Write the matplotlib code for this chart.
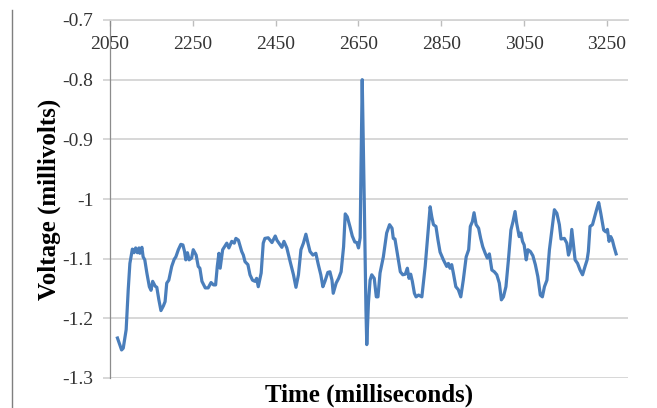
import matplotlib
matplotlib.use("Agg")
import matplotlib.pyplot as plt
from matplotlib.lines import Line2D

time_ms = [2068, 2078, 2082, 2089, 2094, 2098, 2104, 2108, 2112, 2116, 2120, 2122, 2127, 2130,
           2134, 2139, 2145, 2149, 2153, 2159, 2163, 2168, 2173, 2179, 2183, 2187, 2192, 2199,
           2205, 2209, 2215, 2221, 2226, 2230, 2233, 2237, 2241, 2247, 2251, 2258, 2263, 2267,
           2272, 2280, 2287, 2294, 2300, 2305, 2309, 2313, 2316, 2322, 2332, 2337, 2344, 2350,
           2354, 2360, 2368, 2372, 2376, 2383, 2388, 2394, 2400, 2404, 2408, 2415, 2420, 2424,
           2432, 2441, 2449, 2453, 2458, 2465, 2470, 2477, 2485, 2493, 2499, 2505, 2511, 2517,
           2523, 2528, 2533, 2540, 2547, 2553, 2559, 2564, 2569, 2576, 2581, 2586, 2589, 2596,
           2602, 2608, 2614, 2618, 2623, 2630, 2635, 2641, 2646, 2650, 2654, 2656, 2659, 2664,
           2668, 2670, 2674, 2678, 2682, 2688, 2693, 2697, 2702, 2710, 2718, 2725, 2731, 2734,
           2738, 2745, 2751, 2757, 2763, 2768, 2772, 2776, 2780, 2785, 2789, 2795, 2803, 2811,
           2817, 2823, 2827, 2831, 2837, 2842, 2847, 2855, 2863, 2867, 2871, 2875, 2879, 2885,
           2891, 2897, 2903, 2910, 2916, 2920, 2925, 2929, 2934, 2940, 2945, 2950, 2956, 2961,
           2966, 2972, 2978, 2984, 2990, 2995, 3000, 3006, 3012, 3018, 3023, 3028, 3032, 3038,
           3042, 3046, 3050, 3055, 3059, 3065, 3071, 3077, 3083, 3089, 3094, 3099, 3105, 3111,
           3117, 3123, 3129, 3135, 3139, 3147, 3153, 3157, 3161, 3165, 3169, 3173, 3179, 3185,
           3191, 3197, 3202, 3205, 3209, 3215, 3220, 3226, 3230, 3235, 3242, 3247, 3251, 3255,
           3259, 3263, 3267, 3272]

voltage_mv = [-1.233, -1.253, -1.250, -1.219, -1.152, -1.108, -1.084, -1.090, -1.082, -1.090,
              -1.082, -1.091, -1.081, -1.097, -1.102, -1.124, -1.147, -1.153, -1.138, -1.146,
              -1.148, -1.169, -1.187, -1.179, -1.172, -1.141, -1.136, -1.113, -1.101, -1.097,
              -1.085, -1.076, -1.077, -1.088, -1.102, -1.090, -1.102, -1.099, -1.085, -1.094,
              -1.113, -1.116, -1.138, -1.149, -1.149, -1.140, -1.144, -1.144, -1.113, -1.091,
              -1.116, -1.085, -1.074, -1.082, -1.071, -1.074, -1.066, -1.069, -1.088, -1.094,
              -1.105, -1.110, -1.127, -1.136, -1.138, -1.133, -1.147, -1.124, -1.074, -1.066,
              -1.065, -1.073, -1.062, -1.069, -1.074, -1.081, -1.071, -1.082, -1.105, -1.127,
              -1.148, -1.127, -1.085, -1.074, -1.059, -1.074, -1.088, -1.094, -1.091, -1.110,
              -1.127, -1.147, -1.138, -1.123, -1.122, -1.136, -1.158, -1.141, -1.133, -1.122,
              -1.080, -1.025, -1.030, -1.048, -1.062, -1.072, -1.073, -1.082, -1.065, -0.951,
              -0.800, -1.007, -1.186, -1.244, -1.174, -1.136, -1.127, -1.133, -1.164, -1.164,
              -1.124, -1.097, -1.057, -1.043, -1.049, -1.066, -1.067, -1.097, -1.122, -1.127,
              -1.126, -1.116, -1.133, -1.126, -1.138, -1.158, -1.164, -1.161, -1.164, -1.113,
              -1.063, -1.013, -1.030, -1.043, -1.046, -1.069, -1.089, -1.102, -1.113, -1.108,
              -1.116, -1.110, -1.124, -1.147, -1.152, -1.164, -1.136, -1.097, -1.085, -1.046,
              -1.038, -1.023, -1.043, -1.049, -1.066, -1.080, -1.091, -1.099, -1.092, -1.119,
              -1.122, -1.127, -1.141, -1.169, -1.164, -1.147, -1.102, -1.052, -1.038, -1.021,
              -1.041, -1.063, -1.057, -1.071, -1.077, -1.102, -1.085, -1.088, -1.095, -1.110,
              -1.130, -1.161, -1.164, -1.147, -1.136, -1.085, -1.052, -1.018, -1.024, -1.043,
              -1.067, -1.066, -1.074, -1.094, -1.085, -1.051, -1.077, -1.102, -1.108, -1.119,
              -1.127, -1.113, -1.102, -1.088, -1.046, -1.043, -1.030, -1.015, -1.006, -1.024,
              -1.052, -1.055, -1.051, -1.071, -1.063, -1.069, -1.080, -1.092]

x_ticks = [2050, 2250, 2450, 2650, 2850, 3050, 3250]
y_ticks = [-1.3, -1.2, -1.1, -1.0, -0.9, -0.8, -0.7]
y_tick_labels = ["-1.3", "-1.2", "-1.1", "-1", "-0.9", "-0.8", "-0.7"]

plt.rcParams['font.family'] = ['Liberation Serif', 'DejaVu Serif']

fig = plt.figure(figsize=(6.57, 4.08), dpi=100)
ax = fig.add_axes([110/657, 1-378/408, (627.7-110)/657, (378-20)/408])

grid_c = '#d4d4d4'
ax.plot(time_ms, voltage_mv, color='#4a7ebb', lw=2.3, solid_joinstyle='round', zorder=3)

ax.set_xlim(2050, 3300)
ax.set_ylim(-1.3, -0.7)
ax.set_xticks(x_ticks)
ax.set_yticks(y_ticks)
ax.set_yticklabels(y_tick_labels)

ax.yaxis.grid(True, color=grid_c, lw=1.3)
ax.set_axisbelow(True)

for s in ['right', 'bottom']:
    ax.spines[s].set_visible(False)
ax.spines['top'].set_color(grid_c)
ax.spines['top'].set_linewidth(1.3)
ax.spines['left'].set_color('#8c8c8c')
ax.spines['left'].set_linewidth(0.9)

ax.xaxis.set_ticks_position('top')
ax.tick_params(axis='x', direction='in', length=4.5, width=1.0, color='#bdbdbd',
               labelsize=14, pad=-24, labelcolor='#333333')
ax.tick_params(axis='y', direction='out', length=5, width=1.3, color=grid_c,
               labelsize=14, pad=7, labelcolor='#333333')

ax.set_xlabel('Time (milliseconds)', fontsize=18, fontweight='bold', labelpad=4)
ax.set_ylabel('Voltage (millivolts)', fontsize=18, fontweight='bold', labelpad=1)

fig.add_artist(Line2D([12/657, 12/657], [0, 1-10/408], transform=fig.transFigure,
                      color='#7f7f7f', lw=1.0))

fig.savefig('out.png', dpi=100, facecolor='white')
